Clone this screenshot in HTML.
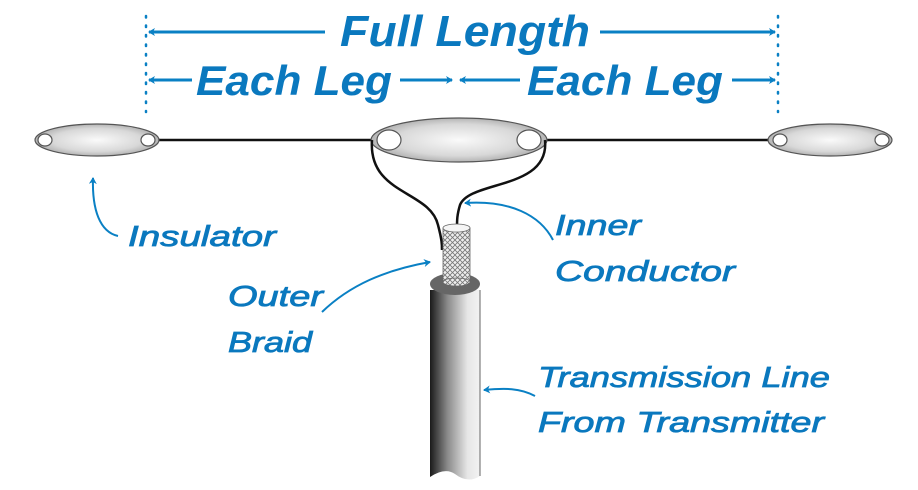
<!DOCTYPE html>
<html><head><meta charset="utf-8"><style>html,body{margin:0;padding:0;background:#fff}svg{display:block}</style></head><body>
<svg width="918" height="490" viewBox="0 0 918 490" xmlns="http://www.w3.org/2000/svg">
<defs>
<radialGradient id="ins" cx="50%" cy="50%" r="60%"><stop offset="0" stop-color="#fafafa"/><stop offset="0.6" stop-color="#d8d8d8"/><stop offset="1" stop-color="#9a9a9a"/></radialGradient>
<linearGradient id="cab" x1="0" x2="1" y1="0" y2="0"><stop offset="0" stop-color="#1a1a1a"/><stop offset="0.35" stop-color="#8a8a8a"/><stop offset="0.75" stop-color="#e6e6e6"/><stop offset="1" stop-color="#f2f2f2"/></linearGradient>
<pattern id="mesh" width="5" height="5" patternUnits="userSpaceOnUse"><rect width="5" height="5" fill="#eee"/><path d="M0 0L5 5M5 0L0 5" stroke="#777" stroke-width="0.8"/></pattern>
<marker id="ah" markerWidth="8" markerHeight="8" refX="6" refY="4" orient="auto" markerUnits="userSpaceOnUse"><path d="M0 0L7 4L0 8L2 4z" fill="#0a80c4"/></marker>
</defs>
<g stroke="#0a80c4" stroke-width="2.5" stroke-dasharray="1.5 8" stroke-linecap="round">
<line x1="146" y1="16" x2="146" y2="112"/><line x1="778" y1="16" x2="778" y2="112"/></g>
<g stroke="#0a80c4" stroke-width="3" fill="none" marker-end="url(#ah)">
<line x1="325" y1="32" x2="149" y2="32"/><line x1="600" y1="32" x2="775" y2="32"/>
<line x1="192" y1="80" x2="149" y2="80"/><line x1="400" y1="80" x2="452" y2="80"/>
<line x1="520" y1="80" x2="460" y2="80"/><line x1="732" y1="80" x2="775" y2="80"/>
</g>
<g fill="#0a78be" font-family="Liberation Sans, sans-serif" font-style="italic">
<g font-weight="bold">
<text x="340" y="46" font-size="44" textLength="250" lengthAdjust="spacingAndGlyphs">Full Length</text>
<text x="196" y="95" font-size="42" textLength="196" lengthAdjust="spacingAndGlyphs">Each Leg</text>
<text x="527" y="95" font-size="42" textLength="196" lengthAdjust="spacingAndGlyphs">Each Leg</text>
</g>
<g font-size="29" stroke="#0a78be" stroke-width="0.8">
<text x="128" y="246" textLength="148" lengthAdjust="spacingAndGlyphs">Insulator</text>
<text x="555" y="235" textLength="86" lengthAdjust="spacingAndGlyphs">Inner</text>
<text x="555" y="281" textLength="180" lengthAdjust="spacingAndGlyphs">Conductor</text>
<text x="228" y="306" textLength="95" lengthAdjust="spacingAndGlyphs">Outer</text>
<text x="228" y="352" textLength="84" lengthAdjust="spacingAndGlyphs">Braid</text>
<text x="538" y="387" textLength="292" lengthAdjust="spacingAndGlyphs">Transmission Line</text>
<text x="538" y="432" textLength="286" lengthAdjust="spacingAndGlyphs">From Transmitter</text>
</g></g>
<line x1="148" y1="140" x2="782" y2="140" stroke="#111" stroke-width="2.5"/>
<g stroke="#555" stroke-width="1.2">
<ellipse cx="97" cy="140" rx="62" ry="16" fill="url(#ins)"/>
<ellipse cx="459" cy="140" rx="88" ry="22" fill="url(#ins)"/>
<ellipse cx="830" cy="140" rx="62" ry="16" fill="url(#ins)"/>
<g fill="#fff"><ellipse cx="45" cy="140" rx="7" ry="6"/><ellipse cx="148" cy="140" rx="7" ry="6"/>
<ellipse cx="389" cy="140" rx="12" ry="10"/><ellipse cx="529" cy="140" rx="12" ry="10"/>
<ellipse cx="780" cy="140" rx="7" ry="6"/><ellipse cx="882" cy="140" rx="7" ry="6"/></g></g>
<path d="M372 140 C368 195 430 190 438 225 C442 240 442 245 442 250" stroke="#111" stroke-width="2.5" fill="none"/>
<path d="M545 140 C550 190 470 180 460 205 C457 215 457 220 457 228" stroke="#111" stroke-width="2.5" fill="none"/>
<path d="M430 290 L430 477 Q445 467 455 474 Q468 484 480 476 L480 290 Z" fill="url(#cab)"/>
<line x1="480" y1="290" x2="480" y2="476" stroke="#666" stroke-width="1"/>
<ellipse cx="455" cy="284" rx="25" ry="11" fill="#666"/>
<rect x="443" y="228" width="27" height="54" fill="url(#mesh)" stroke="#666" stroke-width="0.8"/>
<ellipse cx="456.5" cy="282" rx="13.5" ry="4" fill="url(#mesh)" stroke="#666" stroke-width="0.8"/>
<ellipse cx="456.5" cy="228" rx="13.5" ry="4" fill="#f5f5f5" stroke="#666" stroke-width="0.8"/>
<g stroke="#0a80c4" stroke-width="2" fill="none" marker-end="url(#ah)">
<path d="M118 236 C100 232 92 210 93 178"/>
<path d="M553 240 C540 215 510 200 465 203"/>
<path d="M322 312 C350 285 385 270 430 262"/>
<path d="M535 396 C520 388 505 388 484 390"/>
</g>
</svg>
</body></html>
